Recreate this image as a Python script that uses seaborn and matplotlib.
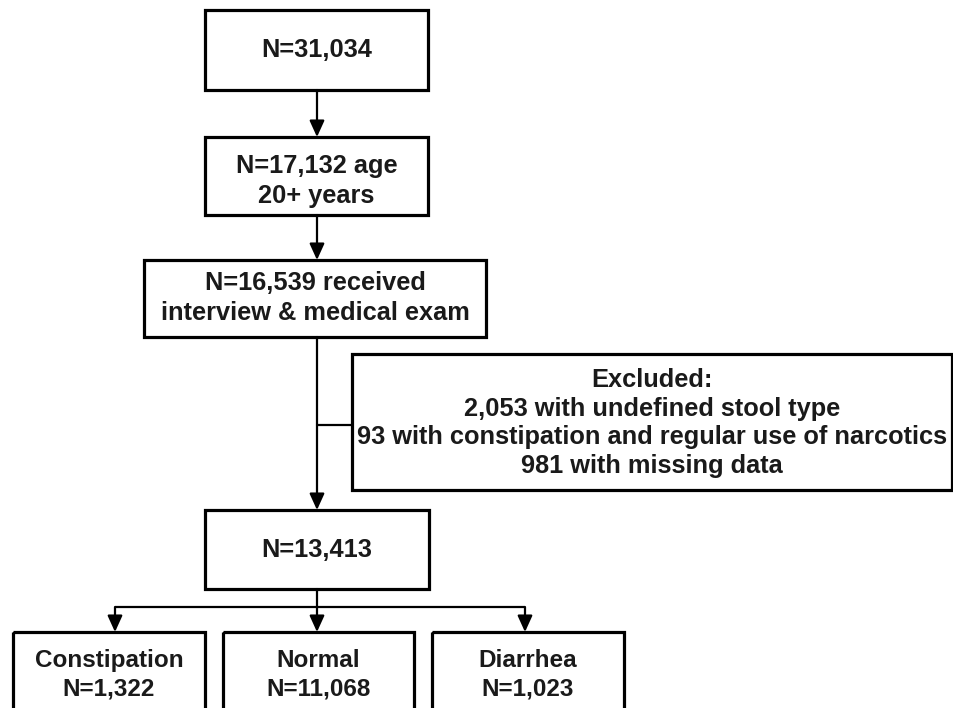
import matplotlib
matplotlib.use('Agg')
import matplotlib.pyplot as plt
from matplotlib import font_manager
from matplotlib.patches import Rectangle
import seaborn as sns

# flow chart content
stage_labels = ['N=31,034',
                'N=17,132 age\n20+ years',
                'N=16,539 received\ninterview & medical exam',
                'N=13,413']
excluded_lines = ['Excluded:',
                  '2,053 with undefined stool type',
                  '93 with constipation and regular use of narcotics',
                  '981 with missing data']
group_names = ['Constipation', 'Normal', 'Diarrhea']
group_counts = ['N=1,322', 'N=11,068', 'N=1,023']

sns.set_theme(style='white')
installed = {f.name for f in font_manager.fontManager.ttflist}
main_font = ['Liberation Sans', 'DejaVu Sans']
narrow_font = ['Liberation Sans Narrow'] + main_font if 'Liberation Sans Narrow' in installed else main_font
plt.rcParams['font.family'] = main_font

fig = plt.figure(figsize=(9.54, 7.08), dpi=100)
ax = fig.add_axes([0, 0, 1, 1])
ax.set_xlim(0, 954)
ax.set_ylim(708, 0)
ax.axis('off')

BOX_LW = 2.3
LINE_LW = 1.6
TXT = '#1a1a1a'


def box(x0, y0, x1, y1, text, ty, fam=main_font, fs=18.3, weight='bold', ls=1.3):
    ax.add_patch(Rectangle((x0, y0), x1 - x0, y1 - y0, fill=False,
                           edgecolor='black', lw=BOX_LW, joinstyle='miter'))
    ax.text((x0 + x1) / 2, ty, text, ha='center', va='center', fontsize=fs,
            fontweight=weight, family=fam, color=TXT, linespacing=ls)


def arrow(x, y0, y1):
    ax.annotate('', xy=(x, y1), xytext=(x, y0),
                arrowprops=dict(arrowstyle='-|>,head_length=0.55,head_width=0.25',
                                mutation_scale=18, lw=LINE_LW, color='black',
                                shrinkA=0, shrinkB=0))


# main stages
stage_boxes = [(205, 10, 428, 90, 50), (205, 137, 428, 215, 181),
               (144, 260, 486, 337, 298), (205, 510, 429, 589, 550)]
for (x0, y0, x1, y1, ty), lab in zip(stage_boxes, stage_labels):
    box(x0, y0, x1, y1, lab, ty)

arrow(317, 90, 137)
arrow(317, 215, 260)
arrow(317, 337, 510)

# exclusion box
ax.plot([317, 352], [425, 425], color='black', lw=LINE_LW)
box(352, 354, 952, 490, '\n'.join(excluded_lines), 423, ls=1.24)

# split into groups
ax.plot([317, 317], [589, 607], color='black', lw=LINE_LW)
ax.plot([115, 525], [607, 607], color='black', lw=LINE_LW, solid_capstyle='butt')
group_boxes = [(13, 205), (223, 414), (432, 624)]
branch_x = [115, 317, 525]
for (x0, x1), bx, name, cnt in zip(group_boxes, branch_x, group_names, group_counts):
    arrow(bx, 607, 632)
    box(x0, 632, x1, 740, name + '\n' + cnt, 675, fam=narrow_font, fs=17.5)

fig.savefig('out.png', dpi=100)
